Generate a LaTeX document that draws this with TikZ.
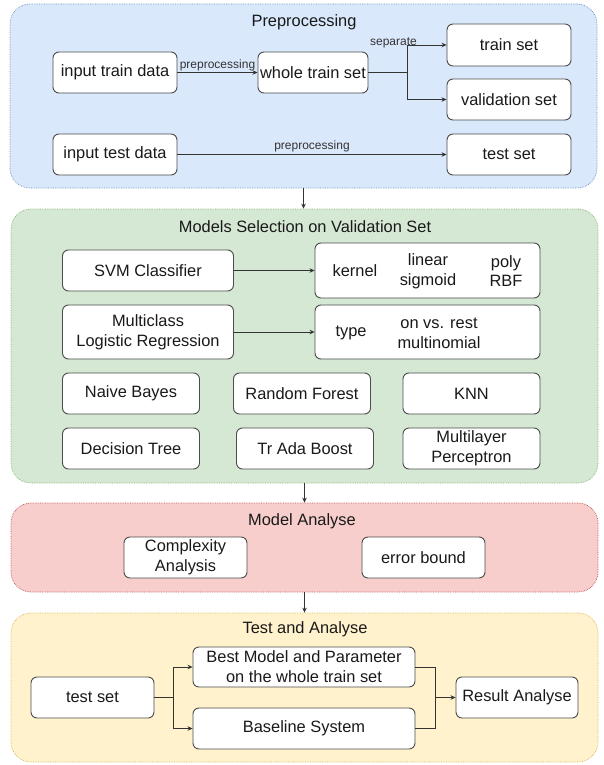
\documentclass[tikz,border=0pt]{standalone}
\usepackage{fontspec}
\setmainfont{Liberation Sans}
\usetikzlibrary{arrows.meta,positioning}

\definecolor{prepfill}{HTML}{DAE8FC}
\definecolor{prepline}{HTML}{6C8EBF}
\definecolor{selfill}{HTML}{D5E8D4}
\definecolor{selline}{HTML}{82B366}
\definecolor{anafill}{HTML}{F8CECC}
\definecolor{analine}{HTML}{B85450}
\definecolor{tstfill}{HTML}{FFF2CC}
\definecolor{tstline}{HTML}{D6B656}

\begin{document}
\begin{tikzpicture}[x=1pt,y=-1pt,
	>={Stealth[length=5pt,width=4.5pt]},
	every node/.style={font=\fontsize{16.4}{19.8}\selectfont, text=black!90},
	group/.style={densely dotted, line width=0.7pt, rounded corners=20pt, inner sep=0pt},
	box/.style={draw=black!70, fill=white, rounded corners=6pt, line width=0.9pt, inner sep=0pt, align=center, minimum height=41pt},
	lbl/.style={font=\fontsize{12}{14}\selectfont, text=black!80, inner sep=1pt},
	link/.style={draw=black!80, line width=0.8pt}]
		\useasboundingbox (0,0) rectangle (604,765);

		\node[group, draw=prepline, fill=prepfill, minimum width=587pt, minimum height=184pt] (prep) at (303.5,96) {};
		\node[group, draw=selline, fill=selfill, minimum width=587pt, minimum height=274pt] (sel) at (304.5,346) {};
		\node[group, draw=analine, fill=anafill, minimum width=587pt, minimum height=89pt] (ana) at (304.5,547.5) {};
		\node[group, draw=tstline, fill=tstfill, minimum width=587pt, minimum height=149pt] (tst) at (304.5,687.5) {};

		\draw[->, link] (prep.south) -- (prep.south |- sel.north);
		\draw[->, link] (sel.south) -- (ana.north);
		\draw[->, link] (ana.south) -- (tst.north);

		\node (preptitle) at (304,22) {Preprocessing};
		\node[box, minimum width=124pt] (itd) at (115,72.5) {input train data};
		\node[box, minimum width=110pt] (wts) at (313,72.5) {whole train set};
		\node[box, minimum width=124pt, minimum height=42pt] (trs) at (509,45) {train set};
		\node[box, minimum width=124pt] (vas) at (509,99.5) {validation set};
		\node[box, minimum width=124pt] (ited) at (115,154.5) {input test data};
		\node[box, minimum width=124pt] (tes) at (509,154.5) {test set};
		\draw[->, link] (itd) -- node[lbl, midway, above] (pp1) {preprocessing} (wts);
		\draw[link] (wts.east) -- ++(39,0) coordinate (split);
		\draw[->, link] (split) |- node[lbl, pos=0.5, xshift=-14pt, yshift=2pt] (sepa) {separate} (trs.west);
		\draw[->, link] (split) |- (vas.west);
		\draw[->, link] (ited) -- node[lbl, midway, above, yshift=1pt] (pp2) {preprocessing} (tes);

		\node (seltitle) at (305,227) {Models Selection on Validation Set};
		\node[box, minimum width=171pt] (svm) at (148,270.5) {SVM Classifier};
		\node[box, minimum width=225pt, minimum height=55pt] (kbox) at (427.5,270.5) {};
		\node (kern) at (355,271) {kernel};
		\node[align=center] (klin) at (428,271) {linear\\sigmoid};
		\node[align=center] (kpol) at (506,271) {poly\\RBF};
		\node[box, minimum width=171pt, minimum height=54pt] (mlr) at (148,332) {Multiclass\\Logistic Regression};
		\node[box, minimum width=225pt, minimum height=54pt] (tbox) at (427.5,332) {};
		\node (typ) at (351,333) {type};
		\node[align=center] (tval) at (439,333) {on vs. rest\\multinomial};
		\draw[->, link] (svm) -- (kbox);
		\draw[->, link] (mlr) -- (tbox);

		\node[box, minimum width=137pt] (nb) at (131,393.5) {Naive Bayes};
		\node[box, minimum width=137pt] (rf) at (302,393.5) {Random Forest};
		\node[box, minimum width=137pt] (knn) at (471.5,393.5) {KNN};
		\node[box, minimum width=137pt] (dt) at (131,448.5) {Decision Tree};
		\node[box, minimum width=137pt] (tab) at (305,448.5) {Tr Ada Boost};
		\node[box, minimum width=137pt] (mlp) at (471.5,448.5) {Multilayer\\Perceptron};

		\node (anatitle) at (302,521) {Model Analyse};
		\node[box, minimum width=123pt] (cpx) at (185.5,557.5) {Complexity\\Analysis};
		\node[box, minimum width=123pt] (err) at (423.5,557.5) {error bound};

		\node (tsttitle) at (305,629) {Test and Analyse};
		\node[box, minimum width=123pt] (tset) at (92.5,697.5) {test set};
		\node[box, minimum width=222pt, minimum height=40pt] (best) at (304,667) {Best Model and Parameter\\on the whole train set};
		\node[box, minimum width=222pt] (base) at (304,728.5) {Baseline System};
		\node[box, minimum width=122pt] (res) at (517,697.5) {Result Analyse};
		\draw[link] (tset.east) -- ++(19,0) coordinate (fork);
		\draw[->, link] (fork) |- (best.west);
		\draw[->, link] (fork) |- (base.west);
		\coordinate (merge) at (435,697.5);
		\draw[link] (best.east) -| (merge);
		\draw[link] (base.east) -| (merge);
		\draw[->, link] (merge) -- (res.west);
	\end{tikzpicture}
\end{document}
